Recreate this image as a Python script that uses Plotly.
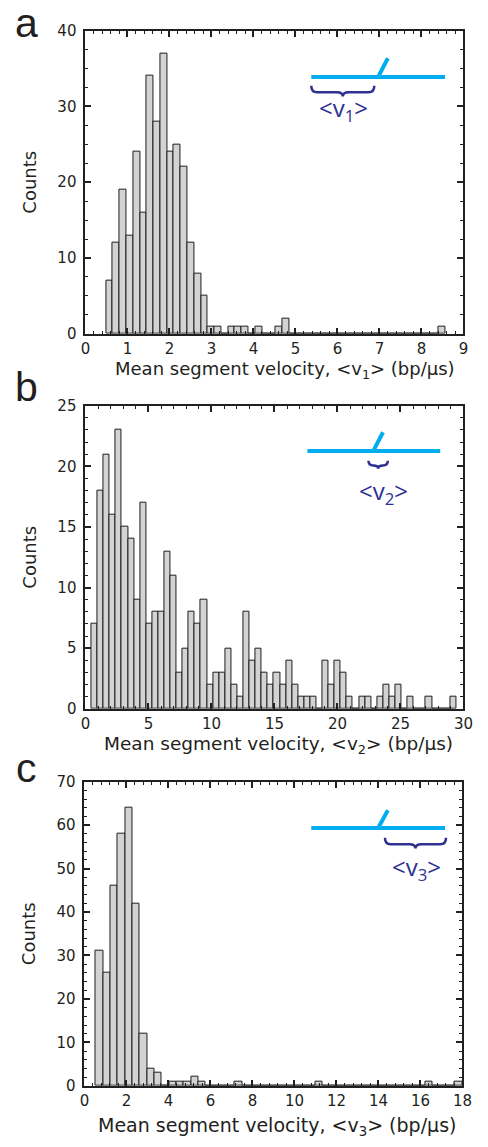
import plotly.graph_objects as go

# ---- histogram data: bin start, bin width and counts per bin ----
a_start, a_width = 0.49, 0.1615
a_counts = [7, 12, 19, 13, 24, 16, 34, 28, 37, 24, 25, 22, 12, 8, 5, 1, 1, 0, 1, 1,
            1, 0, 1, 0, 0, 1, 2, 0, 0, 0, 0, 0, 0, 0, 0, 0, 0, 0, 0, 0,
            0, 0, 0, 0, 0, 0, 0, 0, 0, 1]

b_start, b_width = 0.48, 0.4825
b_counts = [7, 18, 21, 16, 23, 15, 14, 9, 17, 7, 8, 8, 13, 11, 3, 5, 8, 7, 9, 2,
            3, 3, 5, 2, 1, 8, 4, 5, 3, 2, 3, 2, 4, 2, 1, 1, 1, 0, 4, 2,
            4, 3, 1, 0, 1, 1, 0, 1, 2, 1, 2, 0, 1, 0, 0, 1, 0, 0, 0, 1]

c_start, c_width = 0.535, 0.349
c_counts = [31, 26, 46, 58, 64, 42, 12, 4, 3, 0, 1, 1, 1, 2, 1, 0, 0, 0, 0, 1,
            0, 0, 0, 0, 0, 0, 0, 0, 0, 0, 1, 0, 0, 0, 0, 0, 0, 0, 0, 0,
            0, 0, 0, 0, 0, 1, 0, 0, 0, 1]

x_titles = ["Mean segment velocity, &lt;v<sub>1</sub>&gt; (bp/µs)",
            "Mean segment velocity, &lt;v<sub>2</sub>&gt; (bp/µs)",
            "Mean segment velocity, &lt;v<sub>3</sub>&gt; (bp/µs)"]
panel_letters = ["a", "b", "c"]

W, H = 488, 1147
CYAN = "#00AEEF"
NAVY = "#2E3192"
INK = "#231f20"
BAR_FILL = "#d3d3d3"
BAR_EDGE = "#1e1e1e"


def px(x):
    return x / W


def py(y):
    return 1 - y / H


def centers(start, width, n):
    return [start + width * (i + 0.5) for i in range(n)]


fig = go.Figure()
panels = [
    (a_start, a_width, a_counts, "x", "y"),
    (b_start, b_width, b_counts, "x2", "y2"),
    (c_start, c_width, c_counts, "x3", "y3"),
]
for start, width, counts, xa, ya in panels:
    fig.add_trace(go.Bar(
        x=centers(start, width, len(counts)), y=counts, width=width,
        marker=dict(color=BAR_FILL, line=dict(color=BAR_EDGE, width=1)),
        xaxis=xa, yaxis=ya, showlegend=False, hoverinfo="x+y"))

tick_font = dict(family="DejaVu Sans, sans-serif", size=15, color=INK)
title_font = dict(family="DejaVu Sans, sans-serif", size=18, color=INK)


def axis_style(**kw):
    d = dict(showline=True, linewidth=2, linecolor=INK, mirror="ticks",
             ticks="inside", ticklen=6, tickwidth=1.5, tickcolor=INK,
             showgrid=False, zeroline=False, tickfont=tick_font,
             fixedrange=True)
    d.update(kw)
    return d


# plot-area boxes in pixels: (left, right, top, bottom)
boxes = [(83, 473, 22, 330), (83, 473, 403, 711), (82, 472, 785, 1094)]
x_specs = [(9, 1, 0.2), (30, 5, 1), (18, 2, 0.4)]
y_specs = [(40, 10, 2.5), (25, 5, 1), (70, 10, 2)]
# x-title placement (centre x, centre y, font size) in pixels
x_title_pos = [(289, 367, 18), (282, 748, 18.5), (281, 1135, 19)]
# top edge of each panel letter's text box, in pixels
letter_top = [-11, 359, 746]

layout = dict(width=W, height=H, margin=dict(l=0, r=0, t=0, b=0),
              paper_bgcolor="white", plot_bgcolor="white", bargap=0)
for i, ((l, r, t, b), (xmax, xd, xm), (ymax, yd, ym)) in enumerate(zip(boxes, x_specs, y_specs)):
    sfx = "" if i == 0 else str(i + 1)
    layout["xaxis" + sfx] = axis_style(
        domain=[px(l), px(r)], anchor="y" + sfx, range=[0, xmax], dtick=xd, tick0=0,
        minor=dict(ticks="inside", ticklen=3, tickwidth=1, tickcolor=INK, dtick=xm, tick0=0))
    layout["yaxis" + sfx] = axis_style(
        domain=[py(b), py(t)], anchor="x" + sfx, range=[0, ymax], dtick=yd, tick0=0,
        ticklabelstandoff=4,
        minor=dict(ticks="inside", ticklen=3, tickwidth=1, tickcolor=INK, dtick=ym, tick0=0),
        title=dict(text="Counts", font=title_font, standoff=16))
fig.update_layout(**layout)

# x-axis titles
for text, (tx, ty, fs) in zip(x_titles, x_title_pos):
    fig.add_annotation(text=text, xref="paper", yref="paper", x=px(tx), y=py(ty),
                       xanchor="center", yanchor="middle", showarrow=False,
                       font=dict(family="DejaVu Sans, sans-serif", size=fs, color=INK))

# panel letters
letter_font = dict(family="Liberation Sans, Arial, sans-serif", size=41, color=INK)
for letter, top in zip(panel_letters, letter_top):
    fig.add_annotation(text=letter, xref="paper", yref="paper", x=px(22), y=py(top),
                       xanchor="center", yanchor="top", showarrow=False, font=letter_font)


def brace_path(x0, x1, y_top, depth):
    """Downward curly brace between x0 and x1 (pixels), as a paper-space SVG path."""
    xm = (x0 + x1) / 2
    ymid = y_top + depth * 0.6
    ytip = y_top + depth
    r = min(6, (x1 - x0) / 4)
    pts = [
        ("M", [(x0, y_top)]),
        ("Q", [(x0, ymid), (x0 + r, ymid)]),
        ("L", [(xm - r, ymid)]),
        ("Q", [(xm, ymid), (xm, ytip)]),
        ("Q", [(xm, ymid), (xm + r, ymid)]),
        ("L", [(x1 - r, ymid)]),
        ("Q", [(x1, ymid), (x1, y_top)]),
    ]
    out = []
    for cmd, coords in pts:
        out.append(cmd + " ".join(f"{px(cx):.5f},{py(cy):.5f}" for cx, cy in coords))
    return " ".join(out)


# schematic insets: strand with a branch, brace marking the measured segment
insets = [
    dict(line=(316, 454, 69), stub=(385, 69, 395, 50), brace=(316, 381, 78, 11),
         label=(349, 102), sub="1"),
    dict(line=(312, 449, 449), stub=(380, 449, 390, 430), brace=(375, 395, 459, 8),
         label=(390, 491), sub="2"),
    dict(line=(316, 454, 832), stub=(385, 832, 395, 814), brace=(392, 455, 842, 11),
         label=(425, 873), sub="3"),
]
for ins in insets:
    x0, x1, y = ins["line"]
    fig.add_shape(type="line", xref="paper", yref="paper", x0=px(x0), x1=px(x1),
                  y0=py(y), y1=py(y), line=dict(color=CYAN, width=4))
    sx0, sy0, sx1, sy1 = ins["stub"]
    fig.add_shape(type="line", xref="paper", yref="paper", x0=px(sx0), x1=px(sx1),
                  y0=py(sy0), y1=py(sy1), line=dict(color=CYAN, width=4))
    bx0, bx1, by, bd = ins["brace"]
    fig.add_shape(type="path", xref="paper", yref="paper", path=brace_path(bx0, bx1, by, bd),
                  line=dict(color=NAVY, width=2.5))
    lx, ly = ins["label"]
    fig.add_annotation(text=f"&lt;v<sub>{ins['sub']}</sub>&gt;", xref="paper", yref="paper",
                       x=px(lx), y=py(ly), xanchor="center", yanchor="middle", showarrow=False,
                       font=dict(family="Open Sans, sans-serif", size=24, color=NAVY))

fig.write_html("out.html")
